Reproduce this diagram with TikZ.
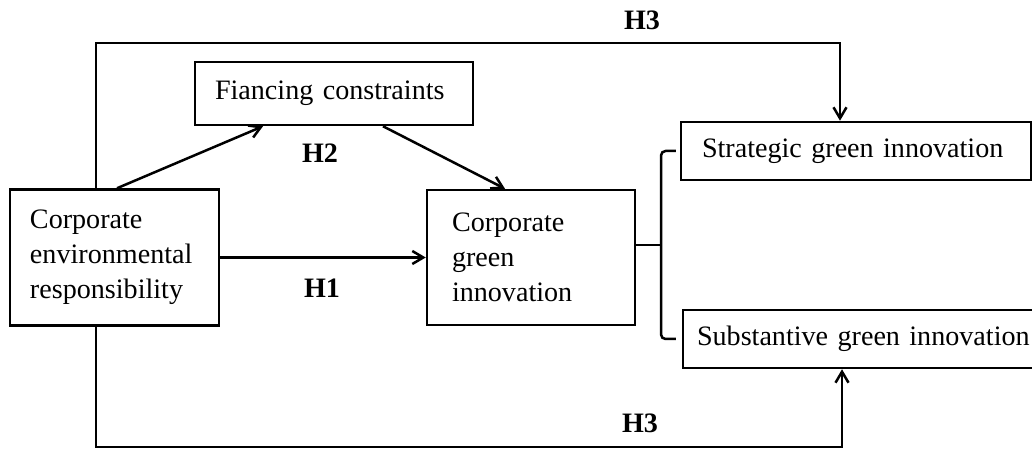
\documentclass[tikz,border=0pt]{standalone}
\usepackage{fontspec}
\setmainfont{Liberation Serif}
\usetikzlibrary{arrows.meta}

\begin{document}
\begin{tikzpicture}[x=0.2mm,y=-0.2mm,line width=0.5mm,>={Straight Barb[length=2.2mm,width=2.6mm]}]
\tikzstyle{box}=[draw,rectangle,align=left,inner ysep=0pt,font=\fontsize{16}{20}\selectfont]
\tikzstyle{hyp}=[font=\fontsize{16}{20}\selectfont\bfseries]
\clip (0,0) rectangle (1032,450);

\node[box,text width=33.8mm,inner xsep=4mm,minimum height=27.2mm](cer) at (114.5,257.5) {Corporate\\environmental\\responsibility};
\node[box,text width=47.6mm,inner xsep=4mm,minimum height=12.6mm](fin) at (334,93.5) {Fiancing constraints};
\node[box,text width=31.6mm,inner xsep=5mm,minimum height=27mm](cgi) at (531,257.5) {Corporate\\green\\innovation};
\node[box,text width=61.6mm,inner xsep=4.2mm,minimum height=11.6mm](sgi) at (856,151) {Strategic green innovation};
% runs off the right edge, as in the figure
\node[box,text width=70mm,inner xsep=2.8mm,minimum height=11.6mm](subgi) at (872,339) {Substantive green innovation};

\node[hyp](h1) at (322,288) {H1};
\node[hyp](h2) at (320,153) {H2};
\node[hyp](h3a) at (642,20) {H3};
\node[hyp](h3b) at (640,423) {H3};

\coordinate (toprun) at (96,43);
\coordinate (topend) at (840,43);
\coordinate (botrun) at (96,447);
\coordinate (botend) at (842,447);
\coordinate (brk) at (661,245);

\draw[->] (cer.east) -- (cgi.west);
\draw[->] ([xshift=0.5mm]cer.north) -- ([xshift=-14.2mm]fin.south);
\draw[->] ([xshift=9.8mm]fin.south) -- ([xshift=-5.2mm]cgi.north);
\draw[->] (toprun |- cer.north) -- (toprun) -- (topend) -- (topend |- sgi.north);
\draw[->] (botrun |- cer.south) -- (botrun) -- (botend) -- (botend |- subgi.south);

% bracket to the two kinds of green innovation
\draw (cgi.east |- brk) -- (brk);
\draw[rounded corners=0.9mm] ([xshift=-0.8mm]sgi.west) -- (sgi.west -| brk) -- (subgi.west -| brk) -- ([xshift=-1.2mm]subgi.west);

\end{tikzpicture}
\end{document}
